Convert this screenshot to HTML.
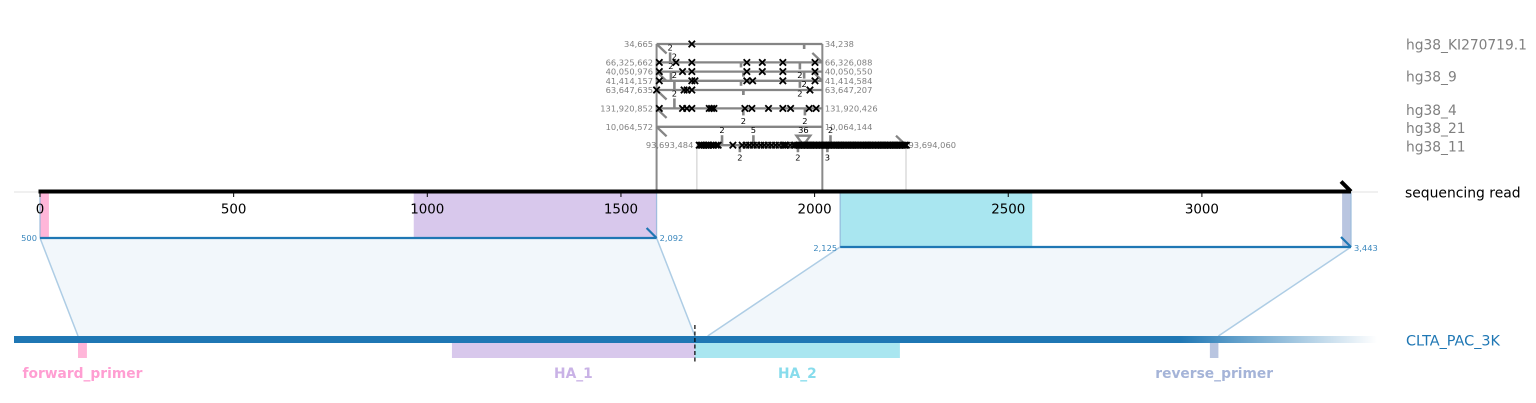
<!DOCTYPE html>
<html lang="en">
<head>
<meta charset="utf-8">
<title>Sequencing read alignment</title>
<style>
html,body{margin:0;padding:0;background:#fff;width:1536px;height:403px;overflow:hidden}
svg{display:block}
text{font-family:"DejaVu Sans","Liberation Sans",sans-serif}
</style>
</head>
<body>
<svg id="chart" xmlns="http://www.w3.org/2000/svg" width="1536" height="403" viewBox="0 0 1536 403">
  <defs>
    <linearGradient id="refFade" gradientUnits="userSpaceOnUse" x1="14" y1="0" x2="1377" y2="0">
      <stop offset="0" stop-color="#1f77b4"/>
      <stop offset="0.855" stop-color="#1f77b4"/>
      <stop offset="1" stop-color="#1f77b4" stop-opacity="0"/>
    </linearGradient>
  </defs>
  <g id="back"></g>
  <g id="marks"></g>
  <text x="1405" y="197.500" font-size="13.9" fill="#000">sequencing read</text>
  <text x="1406" y="345.500" font-size="14.4" fill="#1f77b4">CLTA_PAC_3K</text>
</svg>
<script>
// ---- chart data (read / reference coordinates) ----
const axisTicks = [0, 500, 1000, 1500, 2000, 2500, 3000];
const readLength = 3385;

const featureNames = ['forward_primer', 'HA_1', 'HA_2', 'reverse_primer'];
const featureRefStart = [500, 1465, 2092, 3421];
const featureRefEnd = [523, 2092, 2621, 3443];
const featureFill = ['#ffb6d9', '#d8c8ec', '#a9e6f0', '#b9c5e0'];
const featureText = ['#ff9ed2', '#c9b2e6', '#87dcec', '#a5b4d8'];

const alignReadStart = [0, 2066];
const alignReadEnd = [1592, 3385];
const alignRefStart = [500, 2125];
const alignRefEnd = [2092, 3443];

const contigNames = ['hg38_KI270719.1', 'hg38_9', 'hg38_4', 'hg38_21', 'hg38_11'];
const contigLane = [0, 3.5, 7.1, 9.05, 11.09];

const hitLane = [0, 2, 3, 4, 5, 7, 9, 11];
const hitReadStart = [1592, 1592, 1592, 1592, 1592, 1592, 1592, 1696];
const hitReadEnd = [2020, 2020, 2020, 2020, 2020, 2020, 2020, 2236];
const hitLeftLabel = ['34,665', '66,325,662', '40,050,976', '41,414,157', '63,647,635', '131,920,852', '10,064,572', '93,693,484'];
const hitRightLabel = ['34,238', '66,326,088', '40,050,550', '41,414,584', '63,647,207', '131,920,426', '10,064,144', '93,694,060'];
const hitStrand = ['-', '+', '-', '+', '-', '-', '-', '+'];

const mismatches0 = [1683];
const mismatches1 = [1599, 1642, 1683, 1825, 1865, 1918, 2001];
const mismatches2 = [1599, 1659, 1683, 1825, 1865, 1918, 2001];
const mismatches3 = [1599, 1683, 1691, 1825, 1840, 1918, 2001];
const mismatches4 = [1592, 1663, 1671, 1683, 1988];
const mismatches5 = [1599, 1659, 1670, 1683, 1728, 1734, 1740, 1820, 1838, 1881, 1918, 1938, 1986, 2004];
const mismatches6 = [];
const mismatches7 = [1702, 1706, 1710, 1715, 1720, 1724, 1727, 1733, 1739, 1746, 1751, 1789, 1813, 1823, 1832, 1842, 1851, 1861, 1870, 1880, 1889, 1899, 1908, 1918, 1923, 1927, 1937, 1946, 1950, 1956, 1960, 1965, 1968, 1972, 1976, 1980, 1984, 1988, 1991, 1995, 1999, 2003, 2007, 2011, 2015, 2019, 2023, 2027, 2030, 2034, 2038, 2042, 2046, 2050, 2054, 2058, 2062, 2066, 2069, 2073, 2077, 2081, 2085, 2089, 2093, 2097, 2100, 2104, 2108, 2112, 2116, 2120, 2124, 2128, 2132, 2136, 2139, 2143, 2147, 2151, 2155, 2159, 2163, 2167, 2171, 2175, 2178, 2182, 2186, 2190, 2194, 2198, 2202, 2206, 2209, 2213, 2217, 2221, 2225, 2229, 2233, 2237];
const mismatchRows = [mismatches0, mismatches1, mismatches2, mismatches3, mismatches4, mismatches5, mismatches6, mismatches7];

const indelLane = [2, 2, 4, 5, 7, 11, 11, 11, 0, 2, 3, 4, 5, 2, 3, 4, 5, 7, 7, 11, 11, 11, 11];
const indelPos = [1627, 1638, 1629, 1638, 1638, 1761, 1842, 1971, 1973, 1810, 1816, 1810, 1816, 1962, 1973, 1962, 1816, 1816, 1975, 1807, 1957, 2033, 2041];
const indelDir = [-1, -1, -1, -1, -1, -1, -1, -1, 1, 1, 1, 1, 1, 1, 1, 1, 1, 1, 1, 1, 1, 1, -1];
const indelCount = [2, 2, 2, 2, 2, 2, 5, 36, 0, 0, 0, 0, 0, 2, 2, 2, 0, 2, 2, 2, 2, 3, 2];

// ---- axis functions ----
function readX(v) { return 40 + v * 0.3873; }
function refX(v) { return 78 + (v - 500) * 0.3875; }
function laneY(l) { return 44 + l * 9.2; }

const NS = 'http://www.w3.org/2000/svg';
const back = document.getElementById('back');
const marks = document.getElementById('marks');
function add(parent, tag, attrs, content) {
  const el = document.createElementNS(NS, tag);
  for (const k in attrs) el.setAttribute(k, attrs[k]);
  if (content !== undefined) el.textContent = content;
  parent.appendChild(el);
  return el;
}
const fmt = n => n.toLocaleString('en-US');

const AXIS_Y = 192, TOP_ALIGN = [238, 247], ALIGN_LABEL_DY = [3, 4];

// alignment ribbons
alignReadStart.forEach((s, i) => {
  const y = TOP_ALIGN[i];
  const x0 = readX(s), x1 = readX(alignReadEnd[i]);
  const r0 = refX(alignRefStart[i]), r1 = refX(alignRefEnd[i]);
  const ribbon = add(back, 'polygon', { points: `${x0},${y} ${x1},${y} ${r1},336 ${r0},336`, fill: '#f2f7fb' });
  
  
  [[x0, r0], [x1, r1]].forEach(p => {
    const edge = add(back, 'line', { x1: p[0], y1: y, x2: p[1], y2: 336, stroke: '#aecde5', 'stroke-width': 1.5 });
    
    
  });
});

// features on read and on reference
featureNames.forEach((name, i) => {
  const rs = featureRefStart[i], re = featureRefEnd[i];
  const a = i < 2 ? 0 : 1;
  const y = TOP_ALIGN[a];
  const rawStart = alignReadStart[a] + Math.max(rs, alignRefStart[a]) - alignRefStart[a];
  const rawEnd = alignReadStart[a] + re - alignRefStart[a];
  const onRead = add(back, 'rect', { x: readX(rawStart), y: AXIS_Y, width: readX(rawEnd) - readX(rawStart), height: y - AXIS_Y, fill: featureFill[i] });
  
  
  const onRef = add(back, 'rect', { x: refX(rs), y: 343, width: refX(re) - refX(rs), height: 15, fill: featureFill[i] });
  
  
  const label = add(back, 'text', { x: (refX(rs) + refX(re)) / 2, y: 378, 'text-anchor': 'middle', 'font-size': 13.8, 'font-weight': 'bold', fill: featureText[i] }, name);
  
  
});

// alignment boundary edges inside the read band
alignReadStart.forEach((s, i) => {
  [s, alignReadEnd[i]].forEach(v => {
    const edge = add(back, 'line', { x1: readX(v), y1: AXIS_Y, x2: readX(v), y2: TOP_ALIGN[i], stroke: '#8fb4d8', 'stroke-width': 1.3, 'stroke-opacity': 0.8 });
    
    
  });
});

// reference bar
const refBar = add(marks, 'rect', { x: 14, y: 336, width: 1363, height: 7, fill: 'url(#refFade)' });


const refJunction = add(marks, 'line', { x1: refX(2092), y1: 325, x2: refX(2092), y2: 364, stroke: '#000', 'stroke-width': 1.2, 'stroke-dasharray': '4 2.5' });



// alignment strokes on the read
alignReadStart.forEach((s, i) => {
  const y = TOP_ALIGN[i];
  const x1 = readX(alignReadEnd[i]);
  const seg = add(marks, 'line', { x1: readX(s), y1: y, x2: x1, y2: y, stroke: '#1f77b4', 'stroke-width': 2.2 });
  
  
  const arrow = add(marks, 'line', { x1: x1 - 10, y1: y - 10, x2: x1, y2: y, stroke: '#1f77b4', 'stroke-width': 2.2 });
  
  
  const left = add(marks, 'text', { x: readX(s) - 3, y: y + ALIGN_LABEL_DY[i], 'text-anchor': 'end', 'font-size': 8.3, fill: '#3a87bd' }, fmt(alignRefStart[i]));
  
  
  const right = add(marks, 'text', { x: x1 + 3, y: y + ALIGN_LABEL_DY[i], 'font-size': 8.3, fill: '#3a87bd' }, fmt(alignRefEnd[i]));
  
  
});

// genome hits: span guides first
const GUIDE_COLOR = ['#8a8a8a', '#d6d6d6'];
[[1592, 2020, 0, 0], [1696, 2236, 11, 1]].forEach(g => {
  [g[0], g[1]].forEach(v => {
    const guide = add(marks, 'line', { x1: readX(v), y1: laneY(g[2]), x2: readX(v), y2: AXIS_Y, stroke: GUIDE_COLOR[g[3]], 'stroke-width': g[3] ? 1.3 : 2 });
    
    
  });
});

hitLane.forEach((lane, i) => {
  const y = laneY(lane);
  const x0 = readX(hitReadStart[i]), x1 = readX(hitReadEnd[i]);
  const hit = add(marks, 'line', { x1: x0, y1: y, x2: x1, y2: y, stroke: '#858585', 'stroke-width': 2.3 });
  
  
  const tipX = hitStrand[i] === '+' ? x1 : x0;
  const dx = hitStrand[i] === '+' ? -10 : 10;
  const strand = add(marks, 'line', { x1: tipX, y1: y, x2: tipX + dx, y2: hitStrand[i] === '+' ? y - 9.5 : y + 9.5, stroke: '#858585', 'stroke-width': 2.3 });
  
  
  const l = add(marks, 'text', { x: x0 - 3.5, y: y + 3, 'text-anchor': 'end', 'font-size': 8.3, fill: '#808080' }, hitLeftLabel[i]);
  
  
  const r = add(marks, 'text', { x: x1 + 2.5, y: y + 3, 'font-size': 8.3, fill: '#808080' }, hitRightLabel[i]);
  
  
});

// indels
indelLane.forEach((lane, i) => {
  const y = laneY(lane), x = readX(indelPos[i]), dir = indelDir[i], n = indelCount[i];
  const shortUp = dir < 0 && i === 1;
  const len = n === 0 ? 5 : (shortUp ? 3 : (dir < 0 ? 10 : 7));
  if (n > 10) {
    const tri = add(marks, 'polygon', { points: `${x - 7},${y - 9.5} ${x + 7},${y - 9.5} ${x},${y}`, fill: 'none', stroke: '#858585', 'stroke-width': 2.3 });
    
    
  } else {
    const tick = add(marks, 'line', { x1: x, y1: y, x2: x, y2: y + dir * len, stroke: '#858585', 'stroke-width': 2.6 });
    
    
  }
  if (n > 0) {
    const ly = dir < 0 ? y - (shortUp ? 6 : 15) + 3 : y + 12.5 + 3;
    const t = add(marks, 'text', { x: x, y: ly, 'text-anchor': 'middle', 'font-size': 8.3, fill: '#000' }, String(n));
    
    
  }
});

// mismatches
mismatchRows.forEach((row, i) => {
  const y = laneY(hitLane[i]);
  row.forEach(v => {
    const x = readX(v);
    const cross = add(marks, 'path', { d: `M${x - 3.2} ${y - 3.2}L${x + 3.2} ${y + 3.2}M${x - 3.2} ${y + 3.2}L${x + 3.2} ${y - 3.2}`, stroke: '#000', 'stroke-width': 1.8, fill: 'none' });
    
    
  });
});

// contig labels
contigNames.forEach((name, i) => {
  const t = add(marks, 'text', { x: 1406, y: laneY(contigLane[i]) + 5.500, 'font-size': 13.8, fill: '#808080' }, name);
  
  
});

// read axis
const baseline = add(marks, 'line', { x1: 14, y1: AXIS_Y, x2: 1378, y2: AXIS_Y, stroke: '#e2e2e2', 'stroke-width': 1 });


const axisEnd = readX(readLength);
const readLine = add(marks, 'line', { x1: 38.5, y1: 191.500, x2: axisEnd, y2: 191.500, stroke: '#000', 'stroke-width': 4 });


const readArrow = add(marks, 'line', { x1: axisEnd - 10, y1: 181.500, x2: axisEnd, y2: 191.500, stroke: '#000', 'stroke-width': 4 });


axisTicks.forEach(v => {
  const x = readX(v);
  const tick = add(marks, 'line', { x1: x, y1: 192, x2: x, y2: 197, stroke: '#000', 'stroke-width': 1 });
  
  
  const label = add(marks, 'text', { x: x, y: 213.500, 'text-anchor': 'middle', 'font-size': 13.4, fill: '#000' }, String(v));
  
  
});
</script>
</body>
</html>
